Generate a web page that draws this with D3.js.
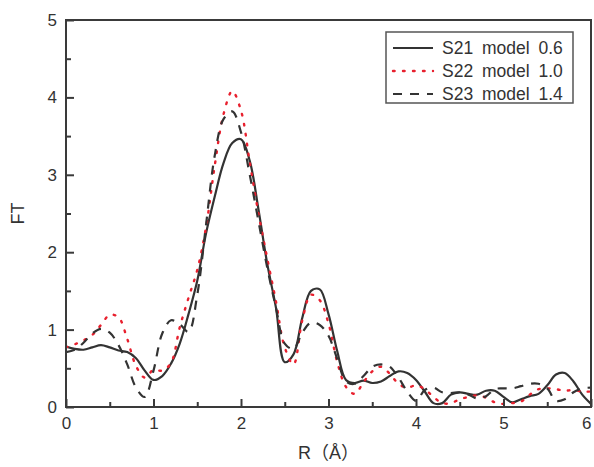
<!DOCTYPE html>
<html>
<head>
<meta charset="utf-8">
<script src="https://cdn.jsdelivr.net/npm/d3@7"></script>
<style>
  body { margin: 0; background: #fff; }
  text { font-family: "Liberation Sans", Arial, sans-serif; fill: #333; }
</style>
</head>
<body>
<svg id="chart"></svg>
<script>
// R grid (Å), step 0.1
const rValues = d3.range(0, 61).map(i => +(i * 0.1).toFixed(1));

const s21 = [0.78, 0.75, 0.74, 0.77, 0.80, 0.77, 0.73, 0.71, 0.63, 0.47,
             0.35, 0.40, 0.56, 0.82, 1.20, 1.63, 2.24, 2.72, 3.15, 3.41,
             3.46, 3.18, 2.55, 1.85, 1.28, 0.58, 0.68, 1.15, 1.50, 1.52,
             1.20, 0.72, 0.35, 0.31, 0.34, 0.31, 0.33, 0.40, 0.46, 0.44,
             0.35, 0.20, 0.05, 0.05, 0.16, 0.19, 0.17, 0.16, 0.21, 0.21,
             0.13, 0.06, 0.10, 0.14, 0.17, 0.28, 0.42, 0.44, 0.33, 0.16,
             0.04];

const s22 = [0.77, 0.81, 0.86, 0.93, 1.06, 1.19, 1.16, 0.88, 0.53, 0.38,
             0.48, 0.47, 0.57, 1.03, 1.41, 1.77, 2.32, 3.12, 3.78, 4.08,
             3.83, 3.16, 2.50, 1.92, 1.36, 0.77, 0.55, 1.12, 1.45, 1.38,
             1.08, 0.58, 0.26, 0.17, 0.32, 0.46, 0.52, 0.43, 0.30, 0.25,
             0.28, 0.23, 0.13, 0.05, 0.05, 0.10, 0.13, 0.15, 0.12, 0.06,
             0.04, 0.05, 0.07, 0.16, 0.23, 0.24, 0.23, 0.21, 0.22, 0.20,
             0.20];

const s23 = [0.71, 0.74, 0.83, 0.95, 1.01, 0.96, 0.80, 0.55, 0.25, 0.13,
             0.47, 0.95, 1.12, 1.07, 0.97, 1.45, 2.35, 3.25, 3.72, 3.82,
             3.55, 3.00, 2.40, 1.80, 1.28, 0.82, 0.75, 0.96, 1.09, 1.06,
             0.92, 0.62, 0.33, 0.30, 0.40, 0.52, 0.55, 0.52, 0.38, 0.20,
             0.08, 0.22, 0.25, 0.19, 0.18, 0.19, 0.16, 0.11, 0.14, 0.23,
             0.24, 0.24, 0.27, 0.30, 0.30, 0.24, 0.08, 0.10, 0.19, 0.24,
             0.25];

const seriesNames = ["S21 model 0.6", "S22 model 1.0", "S23 model 1.4"];
const xTicks = [0, 1, 2, 3, 4, 5, 6];
const yTicks = [0, 1, 2, 3, 4, 5];

const W = 594, H = 467;
const margin = { top: 20, right: 3, bottom: 60, left: 66 };
const width = W - margin.left - margin.right;
const height = H - margin.top - margin.bottom;

const svg = d3.select("#chart").attr("width", W).attr("height", H);
const g = svg.append("g").attr("transform", `translate(${margin.left},${margin.top})`);

const x = d3.scaleLinear().domain([0, 6]).range([0, width]);
const y = d3.scaleLinear().domain([0, 5]).range([height, 0]);

svg.append("defs").append("clipPath").attr("id", "plotClip")
  .append("rect").attr("width", width).attr("height", height);

const styles = [
  { color: "#333333", dash: null, width: 2.2 },
  { color: "#e8202e", dash: "1.6,8.4", width: 2.4, cap: "round" },
  { color: "#333333", dash: "9,8", width: 2.2 }
];
const allSeries = [s21, s22, s23];

const line = d3.line()
  .x((d, i) => x(rValues[i]))
  .y(d => y(d))
  .curve(d3.curveCatmullRom.alpha(0.5));

const plot = g.append("g").attr("clip-path", "url(#plotClip)");
allSeries.forEach((s, k) => {
  plot.append("path")
    .datum(s)
    .attr("d", line)
    .attr("fill", "none")
    .attr("stroke", styles[k].color)
    .attr("stroke-width", styles[k].width)
    .attr("stroke-dasharray", styles[k].dash)
    .attr("stroke-linecap", styles[k].cap || "butt");
});

// Axes (ticks inside)
const xAxis = g.append("g").attr("transform", `translate(0,${height})`)
  .call(d3.axisBottom(x).tickValues(xTicks).tickSize(-8).tickPadding(10).tickFormat(d3.format("d")));
const xMinor = g.append("g").attr("transform", `translate(0,${height})`)
  .call(d3.axisBottom(x).tickValues(xTicks.slice(1).map(d => d - 0.5)).tickSize(-5).tickFormat(""));
const yAxis = g.append("g")
  .call(d3.axisLeft(y).tickValues(yTicks).tickSize(-8).tickPadding(9).tickFormat(d3.format("d")));
const yMinor = g.append("g")
  .call(d3.axisLeft(y).tickValues(yTicks.slice(1).map(d => d - 0.5)).tickSize(-5).tickFormat(""));

[xAxis, xMinor, yAxis, yMinor].forEach(a => {
  a.select(".domain").remove();
  a.selectAll("line").attr("stroke", "#3a3a3a").attr("stroke-width", 2);
  a.selectAll("text").style("font-size", "17px").style("fill", "#333");
});
// last x label sits on the window edge
xAxis.selectAll(".tick text").filter(d => d === 6).attr("text-anchor", "end").attr("dx", "0");

// frame
g.append("rect")
  .attr("width", width).attr("height", height)
  .attr("fill", "none").attr("stroke", "#3a3a3a").attr("stroke-width", 2);

// axis titles
svg.append("text")
  .attr("x", margin.left + width / 2).attr("y", 459)
  .attr("text-anchor", "middle")
  .style("font-size", "18px")
  .style("font-family", "'Liberation Sans', 'Noto Sans CJK JP', sans-serif")
  .text("R（Å）");

svg.append("text")
  .attr("transform", `translate(24,${margin.top + height / 2}) rotate(-90)`)
  .attr("text-anchor", "middle")
  .style("font-size", "18px")
  .text("FT");

// legend
const legend = svg.append("g").attr("transform", "translate(386,32)");
legend.append("rect")
  .attr("width", 187).attr("height", 71)
  .attr("fill", "#fff").attr("stroke", "#555").attr("stroke-width", 1.5);
seriesNames.forEach((name, k) => {
  const ly = 16 + k * 23;
  legend.append("line")
    .attr("x1", 7).attr("x2", 47).attr("y1", ly).attr("y2", ly)
    .attr("stroke", styles[k].color)
    .attr("stroke-width", styles[k].width)
    .attr("stroke-dasharray", styles[k].dash)
    .attr("stroke-linecap", styles[k].cap || "butt");
  legend.append("text")
    .attr("x", 56).attr("y", ly).attr("dy", "0.36em")
    .style("font-size", "17.5px")
    .style("word-spacing", "4px")
    .text(name);
});
</script>
</body>
</html>
